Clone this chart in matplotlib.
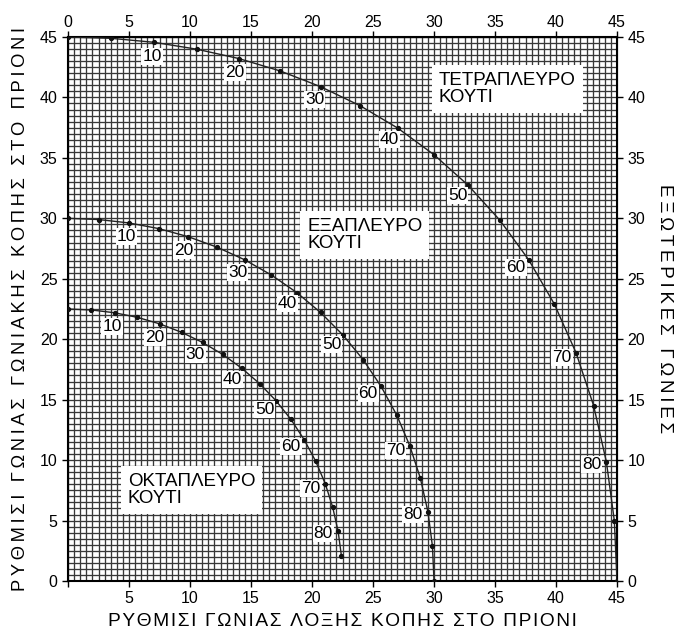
import numpy as np
import matplotlib.pyplot as plt
from matplotlib.ticker import MultipleLocator

plt.rcParams['font.family'] = ['Liberation Sans', 'DejaVu Sans']

# outside angle of the box side, one dot every 5 degrees
side_angles = [0, 5, 10, 15, 20, 25, 30, 35, 40, 45, 50, 55, 60, 65, 70, 75, 80, 85, 90]
labelled = [10, 20, 30, 40, 50, 60, 70, 80]

# 4-sided box: bevel (x) and miter (y)
bevel_4 = [0, 3.53, 7.05, 10.55, 13.99, 17.39, 20.70, 23.93, 27.03, 30.00,
           32.80, 35.40, 37.76, 39.86, 41.64, 43.08, 44.13, 44.78, 45.00]
miter_4 = [45.00, 44.89, 44.56, 43.99, 43.22, 42.19, 40.89, 39.32, 37.46, 35.26,
           32.73, 29.84, 26.57, 22.91, 18.88, 14.51, 9.85, 4.98, 0]

# 6-sided box
bevel_6 = [0, 2.50, 4.98, 7.44, 9.85, 12.20, 14.48, 16.67, 18.75, 20.70,
           22.52, 24.18, 25.66, 26.95, 28.02, 28.88, 29.50, 29.87, 30.00]
miter_6 = [30.00, 29.90, 29.62, 29.15, 28.48, 27.62, 26.57, 25.31, 23.86, 22.21,
           20.36, 18.32, 16.10, 13.71, 11.17, 8.50, 5.73, 2.88, 0]

# 8-sided box (drawn up to 85)
bevel_8 = [0, 1.91, 3.81, 5.68, 7.52, 9.31, 11.03, 12.68, 14.24, 15.70,
           17.05, 18.27, 19.35, 20.29, 21.08, 21.69, 22.14, 22.41]
miter_8 = [22.50, 22.42, 22.19, 21.81, 21.27, 20.57, 19.73, 18.74, 17.60, 16.33,
           14.91, 13.37, 11.70, 9.93, 8.06, 6.12, 4.11, 2.07]

box_names = ['ΤΕΤΡΑΠΛΕΥΡΟ\nΚΟΥΤΙ', 'ΕΞΑΠΛΕΥΡΟ\nΚΟΥΤΙ', 'ΟΚΤΑΠΛΕΥΡΟ\nΚΟΥΤΙ']
name_pos = [(30.4, 42.1), (19.6, 30.0), (4.9, 8.9)]

xlabel = 'ΡΥΘΜΙΣΙ ΓΩΝΙΑΣ ΛΟΞΗΣ ΚΟΠΗΣ ΣΤΟ ΠΡΙΟΝΙ'
ylabel = 'ΡΥΘΜΙΣΙ ΓΩΝΙΑΣ ΓΩΝΙΑΚΗΣ ΚΟΠΗΣ ΣΤΟ ΠΡΙΟΝΙ'
rlabel = 'ΕΞΩΤΕΡΙΚΕΣ ΓΩΝΙΕΣ'

ticks = list(range(0, 50, 5))


def spaced(s, gap='\u2009'):
    # the axis titles are printed letter-spaced
    return gap.join(s)


fig = plt.figure(figsize=(6.83, 6.41), dpi=100)
ax = fig.add_axes([0.0996, 0.0936, 0.8038, 0.8487])
ax.set_xlim(0, 45)
ax.set_ylim(0, 45)

# graph paper grid
ax.xaxis.set_minor_locator(MultipleLocator(0.5))
ax.yaxis.set_minor_locator(MultipleLocator(0.5))
ax.set_xticks(ticks)
ax.set_yticks(ticks)
ax.grid(which='both', color='#383838', linewidth=0.95)
ax.set_axisbelow(True)
ax.tick_params(which='minor', length=0)
ax.tick_params(which='major', length=4, width=1, labelsize=11.5, direction='out')
ax.set_xticklabels([''] + [str(t) for t in ticks[1:]])

for s in ax.spines.values():
    s.set_linewidth(1.5)

top = ax.secondary_xaxis('top')
top.set_xticks(ticks)
top.tick_params(length=4, width=1, labelsize=11.5, pad=1)
right = ax.secondary_yaxis('right')
right.set_yticks(ticks)
right.tick_params(length=4, width=1, labelsize=11.5)

curves = [(bevel_4, miter_4), (bevel_6, miter_6), (bevel_8, miter_8)]
for bx, my in curves:
    ax.plot(bx, my, color='#222222', linewidth=1.0, zorder=3)
    ax.plot(bx, my, 'o', color='#111111', markersize=2.8, zorder=3)
    for a in labelled:
        i = side_angles.index(a)
        tx = bx[i + 1] - bx[i - 1]
        ty = my[i + 1] - my[i - 1]
        n = np.hypot(tx, ty)
        nx, ny = ty / n, -tx / n
        ax.annotate(str(a), (bx[i], my[i]), xytext=(nx * 15, ny * 14),
                    textcoords='offset pixels', ha='center', va='center',
                    fontsize=12.5, zorder=4,
                    bbox=dict(facecolor='white', edgecolor='none', pad=0.8))

for name, (x, y) in zip(box_names, name_pos):
    ax.text(x, y, name, ha='left', va='top', fontsize=13.5, linespacing=1.0,
            zorder=5,
            bbox=dict(facecolor='white', edgecolor='none', pad=5))

ax.set_xlabel(spaced(xlabel, '\u200a'), fontsize=13.8, labelpad=5)
ax.set_ylabel(spaced(ylabel), fontsize=13.2, labelpad=8)
right.set_ylabel(spaced(rlabel), fontsize=13.5, rotation=270, labelpad=20)

fig.savefig('out.png', dpi=100)
